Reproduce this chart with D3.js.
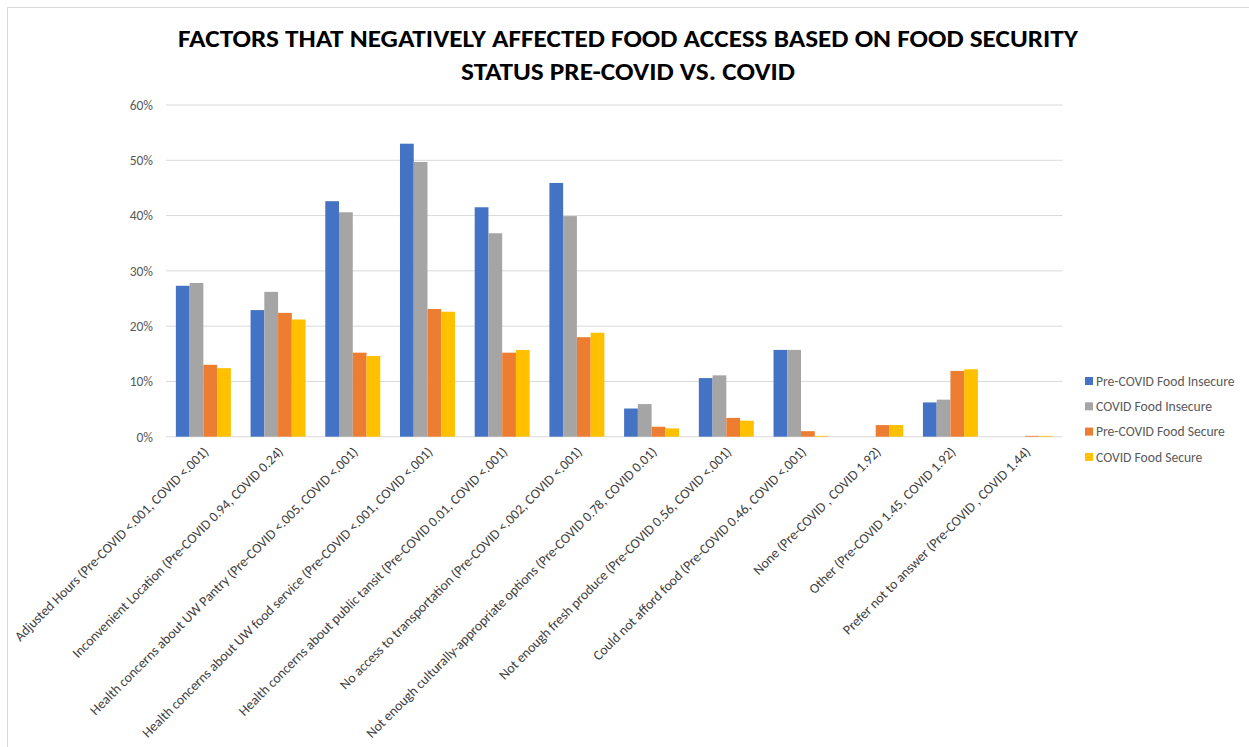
<!DOCTYPE html>
<html><head><meta charset="utf-8">
<script src="https://cdn.jsdelivr.net/npm/d3@7"></script>
<style>body{margin:0;background:#fff;}svg{display:block;}</style>
</head><body>
<svg id="chart" width="1249" height="747"></svg>
<script>
const categories = [
  "Adjusted Hours (Pre-COVID <.001, COVID <.001)",
  "Inconvenient Location (Pre-COVID 0.94, COVID 0.24)",
  "Health concerns about UW Pantry (Pre-COVID <.005, COVID <.001)",
  "Health concerns about UW food service (Pre-COVID <.001, COVID <.001)",
  "Health concerns about public tansit (Pre-COVID 0.01, COVID <.001)",
  "No access to transportation (Pre-COVID <.002, COVID <.001)",
  "Not enough culturally-appropriate options (Pre-COVID 0.78, COVID 0.01)",
  "Not enough fresh produce (Pre-COVID 0.56, COVID <.001)",
  "Could not afford food (Pre-COVID 0.46, COVID <.001)",
  "None (Pre-COVID , COVID 1.92)",
  "Other (Pre-COVID 1.45, COVID 1.92)",
  "Prefer not to answer (Pre-COVID , COVID 1.44)"
];
const seriesNames = ["Pre-COVID Food Insecure","COVID Food Insecure","Pre-COVID Food Secure","COVID Food Secure"];
const preCovidInsecure = [0.273,0.229,0.426,0.530,0.415,0.459,0.051,0.106,0.157,0,0.062,0];
const covidInsecure    = [0.278,0.262,0.406,0.497,0.368,0.399,0.059,0.111,0.157,0,0.067,0];
const preCovidSecure   = [0.130,0.224,0.152,0.231,0.152,0.180,0.018,0.034,0.010,0.021,0.119,0.0015];
const covidSecure      = [0.124,0.212,0.146,0.226,0.157,0.188,0.015,0.029,0.0015,0.021,0.122,0.0015];
const yTicks = [0,0.1,0.2,0.3,0.4,0.5,0.6];
const colors = ["#4472c4","#a5a5a5","#ed7d31","#ffc000"];
const titleLines = ["FACTORS THAT NEGATIVELY AFFECTED FOOD ACCESS BASED ON FOOD SECURITY","STATUS PRE-COVID VS. COVID"];

const seriesValues = [preCovidInsecure, covidInsecure, preCovidSecure, covidSecure];
const svg = d3.select("#chart");
const font = "Carlito, Calibri, 'Liberation Sans', Arial, sans-serif";

// chart border
svg.append("rect").attr("x",7.5).attr("y",7.5).attr("width",1260).attr("height",760)
  .attr("fill","none").attr("stroke","#d9d9d9").attr("stroke-width",1);

const plotLeft = 166, plotRight = 1062.5, plotTop = 105, plotBottom = 436.7;
const x0 = d3.scaleBand().domain(categories.map((d,i)=>i)).range([plotLeft,plotRight]).paddingInner(0.264).paddingOuter(0.132);
const x1 = d3.scaleBand().domain(d3.range(4)).range([0,x0.bandwidth()]).padding(0);
const y = d3.scaleLinear().domain([0,0.6]).range([plotBottom,plotTop]);

// gridlines
svg.append("g").selectAll("line").data(yTicks).join("line")
  .attr("x1",plotLeft).attr("x2",plotRight).attr("y1",d=>y(d)).attr("y2",d=>y(d))
  .attr("stroke","#d9d9d9").attr("stroke-width",1);

// y axis labels
const yAxis = d3.axisLeft(y).tickValues(yTicks).tickFormat(d3.format(".0%")).tickSize(0).tickPadding(13);
const yg = svg.append("g").attr("transform",`translate(${plotLeft},0)`).call(yAxis);
yg.select(".domain").remove();
yg.selectAll("text").attr("font-family",font).attr("font-size",13.5).attr("fill","#595959");

// bars
const groups = svg.append("g").selectAll("g").data(categories.map((c,i)=>i)).join("g")
  .attr("transform",i=>`translate(${x0(i)},0)`);
groups.selectAll("rect").data(i=>seriesValues.map((s,k)=>({k,v:s[i]}))).join("rect")
  .attr("x",d=>x1(d.k)).attr("width",x1.bandwidth())
  .attr("y",d=>y(d.v)).attr("height",d=>Math.max(0,plotBottom-y(d.v)))
  .attr("fill",d=>colors[d.k]);

// x axis labels (rotated)
const xAxis = d3.axisBottom(x0).tickFormat(i=>categories[i]).tickSize(0).tickPadding(0);
const xg = svg.append("g").attr("transform",`translate(0,${plotBottom})`).call(xAxis);
xg.select(".domain").remove();
xg.selectAll(".tick text")
  .attr("font-family",font).attr("font-size",13.8).attr("fill","#404040")
  .attr("text-anchor","end").attr("dy",null).attr("y",null)
  .attr("transform","translate(6,16) rotate(-45)");

// title
const titleWidths = [900, 334];
svg.append("g").selectAll("text").data(titleLines).join("text")
  .attr("x",628).attr("y",(d,i)=>47+i*33).attr("text-anchor","middle")
  .attr("font-family",font)
  .attr("font-weight","bold").attr("font-size",24.5).attr("fill","#000")
  .attr("textLength",(d,i)=>titleWidths[i]).attr("lengthAdjust","spacingAndGlyphs")
  .text(d=>d);

// legend
const lg = svg.append("g").selectAll("g").data(seriesNames).join("g")
  .attr("transform",(d,i)=>`translate(1085,${381+i*25.3})`);
lg.append("rect").attr("x",0).attr("y",-4).attr("width",8).attr("height",8).attr("fill",(d,i)=>colors[i]);
lg.append("text").attr("x",11).attr("y",0).attr("dy","0.35em")
  .attr("font-family",font).attr("font-size",13.6).attr("fill","#595959").text(d=>d);
</script>
</body></html>
